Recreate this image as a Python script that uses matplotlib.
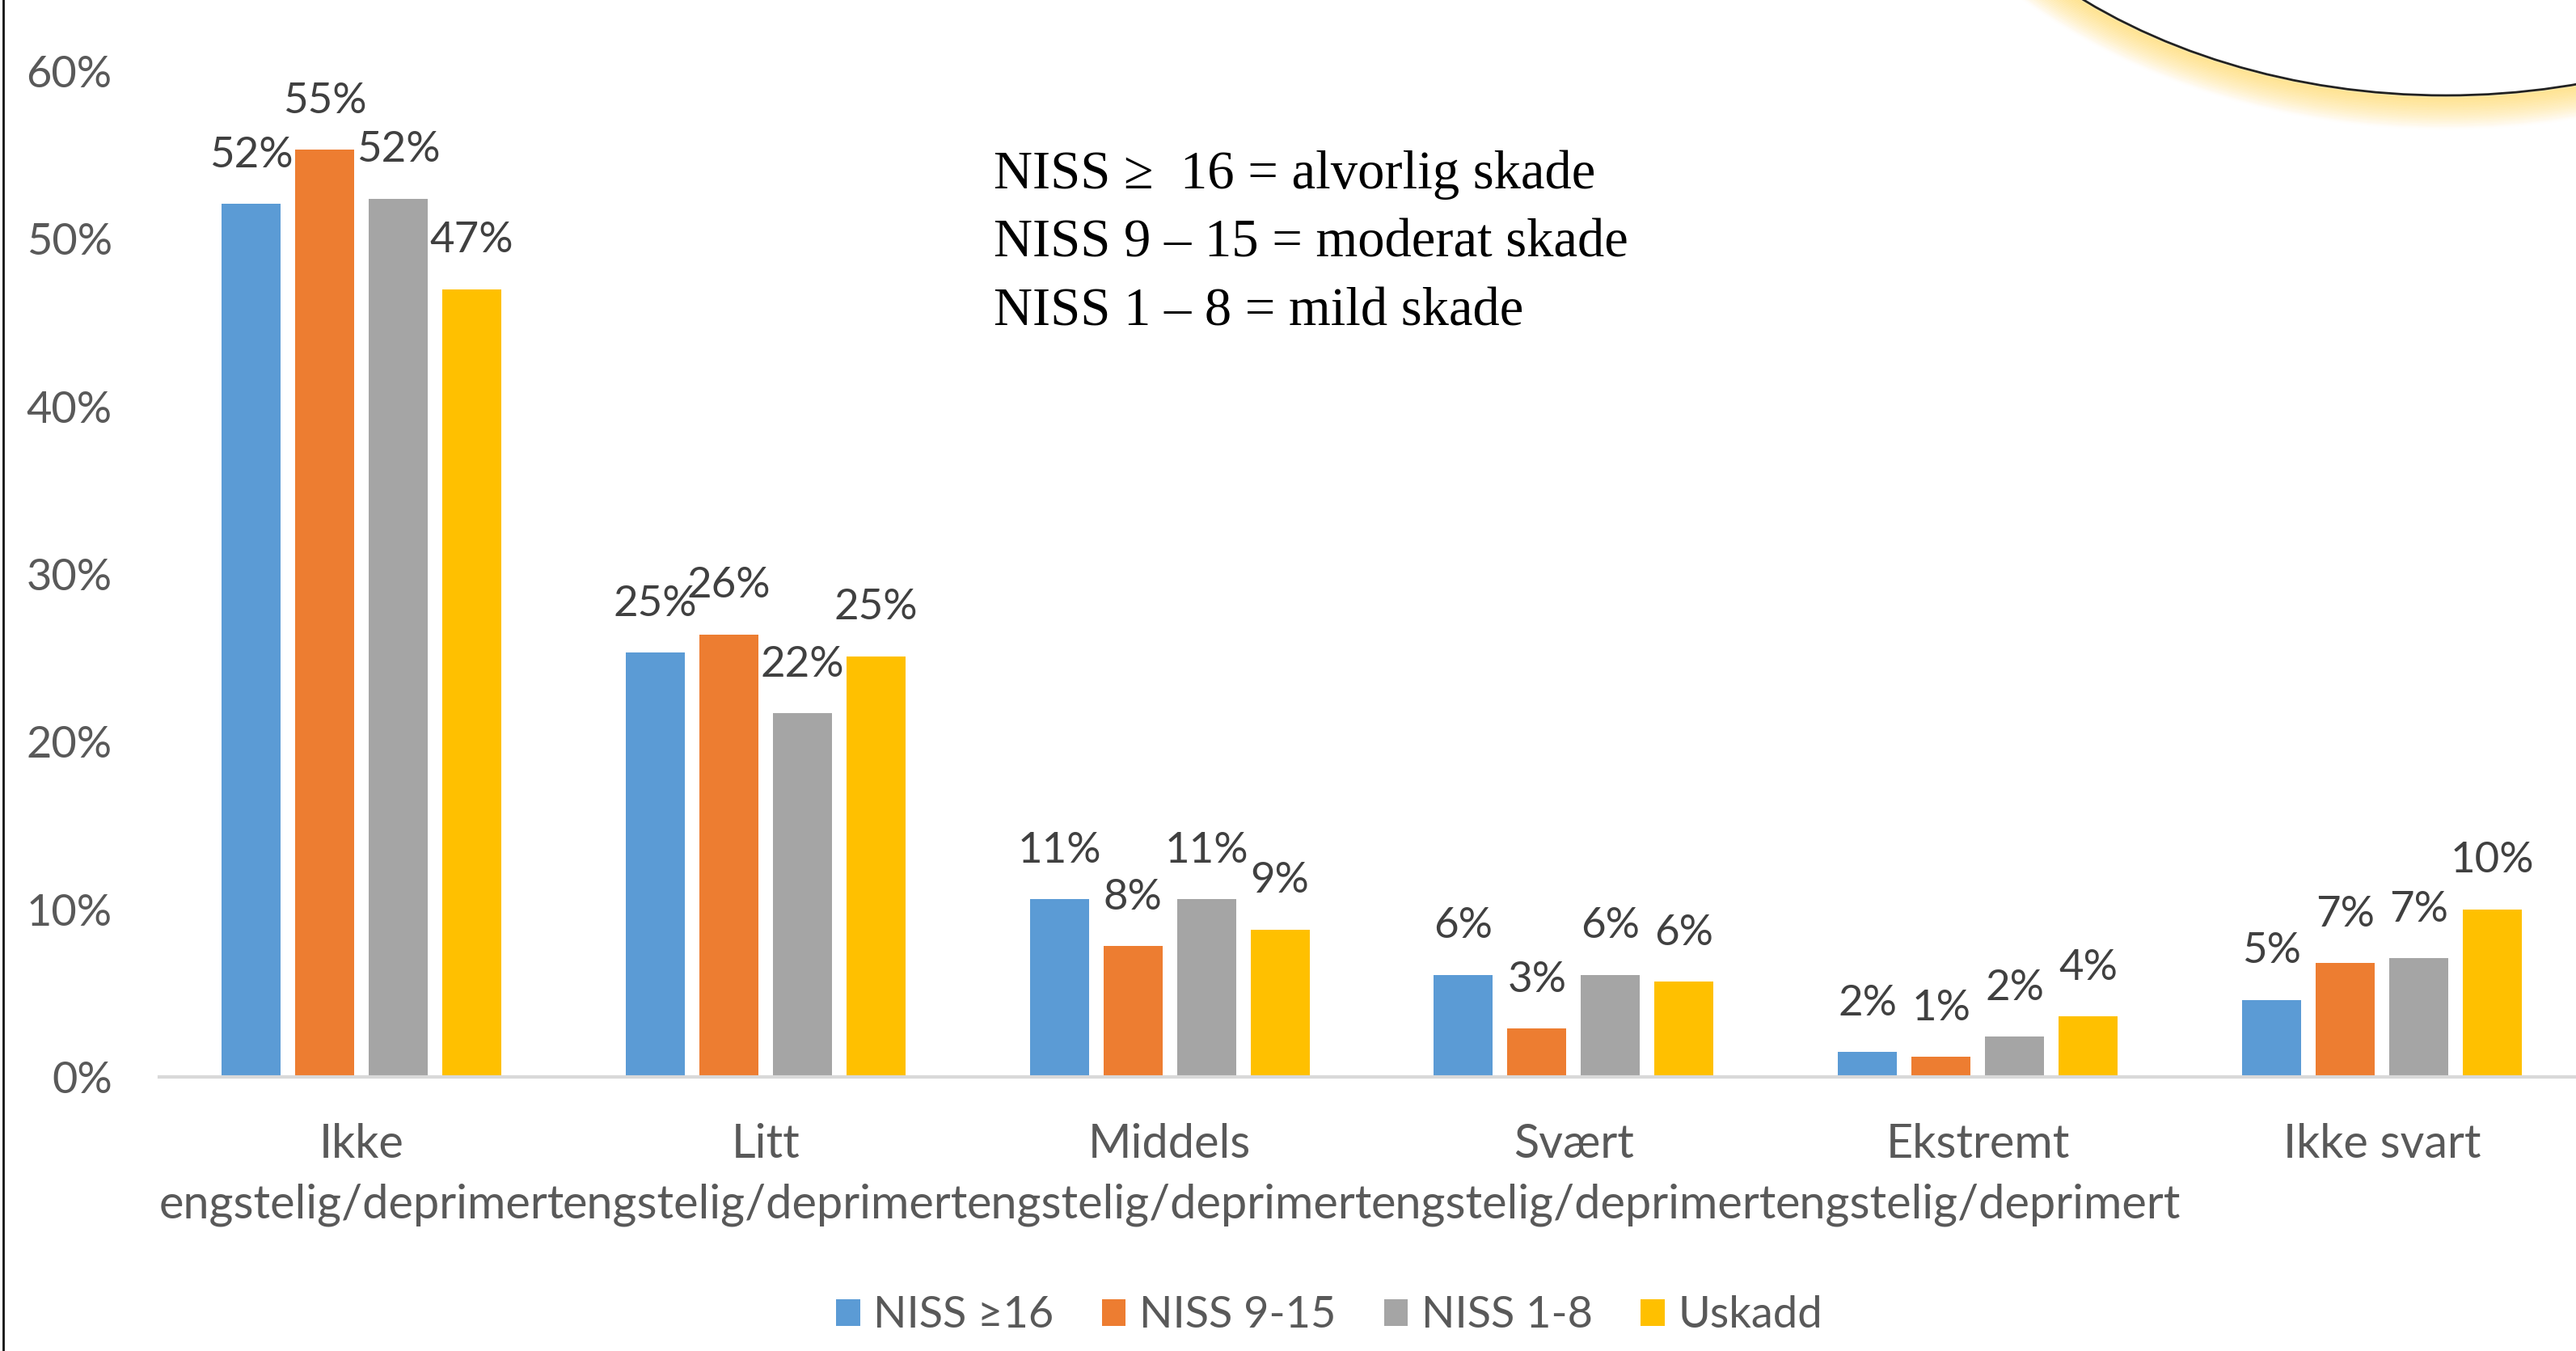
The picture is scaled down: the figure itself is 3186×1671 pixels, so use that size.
import matplotlib
matplotlib.use("Agg")
import matplotlib.pyplot as plt
from matplotlib.patches import Ellipse
from matplotlib.lines import Line2D
import numpy as np

categories = ["Ikke\nengstelig/deprimert", "Litt\nengstelig/deprimert",
              "Middels\nengstelig/deprimert", "Svært\nengstelig/deprimert",
              "Ekstremt\nengstelig/deprimert", "Ikke svart"]
series_names = ["NISS ≥16", "NISS 9-15", "NISS 1-8", "Uskadd"]
niss16 = [52.1, 25.3, 10.6, 6.1, 1.5, 4.6]
niss9_15 = [55.3, 26.4, 7.8, 2.9, 1.2, 6.8]
niss1_8 = [52.4, 21.7, 10.6, 6.1, 2.4, 7.1]
uskadd = [47.0, 25.1, 8.8, 5.7, 3.6, 10.0]
labels16 = ["52%", "25%", "11%", "6%", "2%", "5%"]
labels9_15 = ["55%", "26%", "8%", "3%", "1%", "7%"]
labels1_8 = ["52%", "22%", "11%", "6%", "2%", "7%"]
labels_usk = ["47%", "25%", "9%", "6%", "4%", "10%"]
yticks = [0, 10, 20, 30, 40, 50, 60]
ytick_labels = ["0%", "10%", "20%", "30%", "40%", "50%", "60%"]
note_lines = ["NISS ≥  16 = alvorlig skade", "NISS 9 – 15 = moderat skade", "NISS 1 – 8 = mild skade"]

colors = ["#5B9BD5", "#ED7D31", "#A5A5A5", "#FFC000"]
W, H = 3186, 1671
DPI = 100
plt.rcParams['font.family'] = ['Lato', 'DejaVu Sans']

fig = plt.figure(figsize=(W / DPI, H / DPI), dpi=DPI)
fig.patch.set_facecolor("white")

left_px, right_px = 197, 3196
bottom_px, top_px = 1332, 88
ax = fig.add_axes([left_px / W, 1 - bottom_px / H, (right_px - left_px) / W, (bottom_px - top_px) / H])

x = np.arange(len(categories))
step = 0.182
bw = 0.146
all_series = [niss16, niss9_15, niss1_8, uskadd]
all_labels = [labels16, labels9_15, labels1_8, labels_usk]
handles = []
for i, (vals, labs) in enumerate(zip(all_series, all_labels)):
    pos = x + (i - 1.5) * step
    b = ax.bar(pos, vals, width=bw, color=colors[i], zorder=2, label=series_names[i])
    handles.append(b)
    for p, v, t in zip(pos, vals, labs):
        ax.annotate(t, (p, v), xytext=(0, 43), textcoords="offset points",
                    ha="center", va="center", fontsize=38, color="#404040")

ax.set_xlim(-0.5, len(categories) - 0.5)
ax.set_ylim(0, 60)
ax.set_yticks(yticks)
ax.set_yticklabels(ytick_labels)
ax.set_xticks(x)
ax.set_xticklabels(categories, linespacing=1.5)
ax.tick_params(axis="y", length=0, pad=42, labelsize=39, labelcolor="#595959")
ax.tick_params(axis="x", length=0, pad=41, labelsize=41.5, labelcolor="#595959")
for s in ["top", "right", "left"]:
    ax.spines[s].set_visible(False)
ax.spines["bottom"].set_color("#D9D9D9")
ax.spines["bottom"].set_linewidth(3)
ax.patch.set_alpha(0)

# legend
fig.legend(handles=handles, labels=series_names, loc="center",
           bbox_to_anchor=(809 * 2.032 / W, 1 - 1627 / H), ncol=4, frameon=False,
           fontsize=39, labelcolor="#595959", handlelength=0.55, handleheight=0.55,
           handletextpad=0.3, columnspacing=1.1)

# note text
for k, line in enumerate(note_lines):
    fig.text(1229 / W, 1 - (216 + k * 85) / H, line, fontsize=48, color="black",
             family=["Liberation Serif", "DejaVu Serif"], ha="left", va="center")

# decorative ellipse with glow in top right
cx, cy = 3025 / W, 1 - (-400) / H
ew, eh = 1410, 1036
for d in np.linspace(2, 40, 20):
    alpha = 0.38 * (1 - d / 42)
    e = Ellipse((cx, cy), (ew + 2 * d) / W, (eh + 2 * d) / H, transform=fig.transFigure,
                facecolor="none", edgecolor="#FFD966", linewidth=4, alpha=alpha, zorder=5)
    fig.add_artist(e)
e = Ellipse((cx, cy), ew / W, eh / H, transform=fig.transFigure,
            facecolor="white", edgecolor="#222222", linewidth=2, zorder=6)
fig.add_artist(e)

# left border line
fig.add_artist(Line2D([4 / W, 4 / W], [0, 1], transform=fig.transFigure, color="#111111", linewidth=2))

fig.savefig("out.png", dpi=DPI)
